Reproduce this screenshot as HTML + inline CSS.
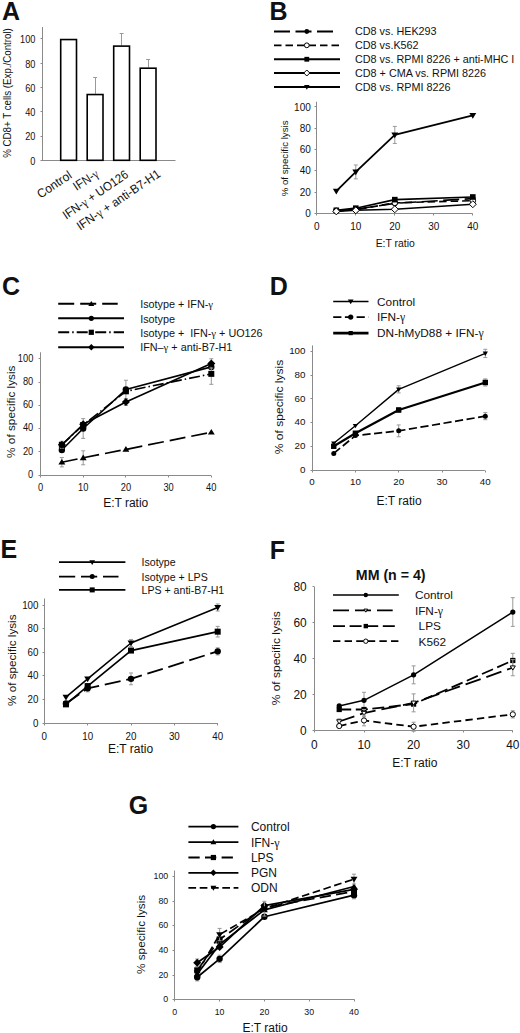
<!DOCTYPE html>
<html><head><meta charset="utf-8"><style>
html,body{margin:0;padding:0;background:#fff;}
body{width:520px;height:1033px;overflow:hidden;font-family:"Liberation Sans",sans-serif;}
svg{display:block;}
</style></head><body>
<svg width="520" height="1033" viewBox="0 0 520 1033" font-family="Liberation Sans, sans-serif">
<rect width="520" height="1033" fill="#fff"/>
<text x="2.00" y="19.50" font-size="25" text-anchor="start" font-weight="bold" fill="#111">A</text>
<line x1="42.50" y1="27.00" x2="42.50" y2="160.50" stroke="#8a8a8a" stroke-width="1"/>
<line x1="41.50" y1="160.50" x2="175.50" y2="160.50" stroke="#8a8a8a" stroke-width="1"/>
<line x1="40.50" y1="160.50" x2="42.50" y2="160.50" stroke="#8a8a8a" stroke-width="1"/>
<text x="35.40" y="164.70" font-size="9.5" text-anchor="end" transform="translate(35.40 164.70) scale(0.97 1.15) translate(-35.40 -164.70)" fill="#111">0</text>
<line x1="40.50" y1="136.50" x2="42.50" y2="136.50" stroke="#8a8a8a" stroke-width="1"/>
<text x="35.40" y="140.42" font-size="9.5" text-anchor="end" transform="translate(35.40 140.42) scale(0.97 1.15) translate(-35.40 -140.42)" fill="#111">20</text>
<line x1="40.50" y1="111.50" x2="42.50" y2="111.50" stroke="#8a8a8a" stroke-width="1"/>
<text x="35.40" y="116.14" font-size="9.5" text-anchor="end" transform="translate(35.40 116.14) scale(0.97 1.15) translate(-35.40 -116.14)" fill="#111">40</text>
<line x1="40.50" y1="87.50" x2="42.50" y2="87.50" stroke="#8a8a8a" stroke-width="1"/>
<text x="35.40" y="91.86" font-size="9.5" text-anchor="end" transform="translate(35.40 91.86) scale(0.97 1.15) translate(-35.40 -91.86)" fill="#111">60</text>
<line x1="40.50" y1="63.50" x2="42.50" y2="63.50" stroke="#8a8a8a" stroke-width="1"/>
<text x="35.40" y="67.58" font-size="9.5" text-anchor="end" transform="translate(35.40 67.58) scale(0.97 1.15) translate(-35.40 -67.58)" fill="#111">80</text>
<line x1="40.50" y1="38.50" x2="42.50" y2="38.50" stroke="#8a8a8a" stroke-width="1"/>
<text x="35.40" y="43.30" font-size="9.5" text-anchor="end" transform="translate(35.40 43.30) scale(0.97 1.15) translate(-35.40 -43.30)" fill="#111">100</text>
<rect x="60.70" y="39.55" width="15.8" height="120.75" fill="#fff" stroke="#000" stroke-width="1.6"/>
<line x1="95.50" y1="77.75" x2="95.50" y2="93.89" stroke="#999" stroke-width="1.0"/>
<line x1="93.10" y1="77.50" x2="97.10" y2="77.50" stroke="#999" stroke-width="1.0"/>
<rect x="87.20" y="94.54" width="15.8" height="65.76" fill="#fff" stroke="#000" stroke-width="1.6"/>
<line x1="121.50" y1="33.44" x2="121.50" y2="45.46" stroke="#999" stroke-width="1.0"/>
<line x1="119.60" y1="33.50" x2="123.60" y2="33.50" stroke="#999" stroke-width="1.0"/>
<rect x="113.70" y="46.11" width="15.8" height="114.19" fill="#fff" stroke="#000" stroke-width="1.6"/>
<line x1="148.50" y1="59.66" x2="148.50" y2="67.55" stroke="#999" stroke-width="1.0"/>
<line x1="146.10" y1="59.50" x2="150.10" y2="59.50" stroke="#999" stroke-width="1.0"/>
<rect x="140.20" y="68.20" width="15.8" height="92.10" fill="#fff" stroke="#000" stroke-width="1.6"/>
<text x="11.30" y="93.00" font-size="10.6" text-anchor="middle" transform="rotate(-90 11.30 93.00)" textLength="129.6" lengthAdjust="spacingAndGlyphs" fill="#111">% CD8+ T cells (Exp./Control)</text>
<text x="72.70" y="177.40" font-size="12.4" text-anchor="end" transform="rotate(-33.6 72.70 177.40)" textLength="38.6" lengthAdjust="spacingAndGlyphs" fill="#111">Control</text>
<text x="99.60" y="175.80" font-size="12.4" text-anchor="end" transform="rotate(-33.6 99.60 175.80)" textLength="27.6" lengthAdjust="spacingAndGlyphs" fill="#111">IFN-<tspan font-family="Liberation Serif">γ</tspan></text>
<text x="129.20" y="176.50" font-size="12.4" text-anchor="end" transform="rotate(-34.4 129.20 176.50)" textLength="76.4" lengthAdjust="spacingAndGlyphs" fill="#111">IFN-<tspan font-family="Liberation Serif">γ</tspan> + UO126</text>
<text x="161.40" y="175.90" font-size="12.4" text-anchor="end" transform="rotate(-34.0 161.40 175.90)" textLength="98.0" lengthAdjust="spacingAndGlyphs" fill="#111">IFN-<tspan font-family="Liberation Serif">γ</tspan> + anti-B7-H1</text>
<text x="269.50" y="20.00" font-size="25" text-anchor="start" font-weight="bold" fill="#111">B</text>
<line x1="316.50" y1="101.70" x2="316.50" y2="213.50" stroke="#8a8a8a" stroke-width="1"/>
<line x1="316.50" y1="213.50" x2="472.60" y2="213.50" stroke="#8a8a8a" stroke-width="1"/>
<line x1="314.50" y1="213.50" x2="316.50" y2="213.50" stroke="#8a8a8a" stroke-width="1"/>
<text x="310.80" y="217.10" font-size="10" text-anchor="end" fill="#111">0</text>
<line x1="314.50" y1="192.50" x2="316.50" y2="192.50" stroke="#8a8a8a" stroke-width="1"/>
<text x="310.80" y="195.78" font-size="10" text-anchor="end" fill="#111">20</text>
<line x1="314.50" y1="170.50" x2="316.50" y2="170.50" stroke="#8a8a8a" stroke-width="1"/>
<text x="310.80" y="174.46" font-size="10" text-anchor="end" fill="#111">40</text>
<line x1="314.50" y1="149.50" x2="316.50" y2="149.50" stroke="#8a8a8a" stroke-width="1"/>
<text x="310.80" y="153.14" font-size="10" text-anchor="end" fill="#111">60</text>
<line x1="314.50" y1="128.50" x2="316.50" y2="128.50" stroke="#8a8a8a" stroke-width="1"/>
<text x="310.80" y="131.82" font-size="10" text-anchor="end" fill="#111">80</text>
<line x1="314.50" y1="106.50" x2="316.50" y2="106.50" stroke="#8a8a8a" stroke-width="1"/>
<text x="310.80" y="110.50" font-size="10" text-anchor="end" fill="#111">100</text>
<line x1="316.50" y1="213.50" x2="316.50" y2="215.50" stroke="#8a8a8a" stroke-width="1"/>
<text x="316.80" y="230.00" font-size="10" text-anchor="middle" fill="#111">0</text>
<line x1="355.50" y1="213.50" x2="355.50" y2="215.50" stroke="#8a8a8a" stroke-width="1"/>
<text x="355.80" y="230.00" font-size="10" text-anchor="middle" fill="#111">10</text>
<line x1="394.50" y1="213.50" x2="394.50" y2="215.50" stroke="#8a8a8a" stroke-width="1"/>
<text x="394.80" y="230.00" font-size="10" text-anchor="middle" fill="#111">20</text>
<line x1="433.50" y1="213.50" x2="433.50" y2="215.50" stroke="#8a8a8a" stroke-width="1"/>
<text x="433.80" y="230.00" font-size="10" text-anchor="middle" fill="#111">30</text>
<line x1="472.50" y1="213.50" x2="472.50" y2="215.50" stroke="#8a8a8a" stroke-width="1"/>
<text x="472.80" y="230.00" font-size="10" text-anchor="middle" fill="#111">40</text>
<text x="287.60" y="158.40" font-size="9.7" text-anchor="middle" transform="rotate(-90 287.60 158.40)" fill="#111">% of specific lysis</text>
<text x="395.20" y="247.40" font-size="10.4" text-anchor="middle" fill="#111">E:T ratio</text>
<line x1="274.00" y1="31.50" x2="333.50" y2="31.50" stroke="#000" stroke-width="1.8" stroke-dasharray="16,5.5"/>
<circle cx="306.80" cy="31.50" r="2.40" fill="#000"/>
<text x="355.00" y="35.30" font-size="10.8" text-anchor="start" fill="#111">CD8 vs. HEK293</text>
<line x1="274.00" y1="45.30" x2="340.00" y2="45.30" stroke="#000" stroke-width="1.8" stroke-dasharray="7.5,4"/>
<circle cx="306.80" cy="45.30" r="2.40" fill="#fff" stroke="#000" stroke-width="1"/>
<text x="355.00" y="49.10" font-size="10.8" text-anchor="start" fill="#111">CD8 vs.K562</text>
<line x1="274.00" y1="59.25" x2="340.00" y2="59.25" stroke="#000" stroke-width="1.8"/>
<rect x="304.40" y="56.85" width="4.80" height="4.80" fill="#000"/>
<text x="355.00" y="63.05" font-size="10.8" text-anchor="start" fill="#111">CD8 vs. RPMI 8226 + anti-MHC I</text>
<line x1="274.00" y1="73.00" x2="340.00" y2="73.00" stroke="#000" stroke-width="1.8"/>
<path d="M306.80 70.00L309.80 73.00L306.80 76.00L303.80 73.00Z" fill="#fff" stroke="#000" stroke-width="1"/>
<text x="355.00" y="76.80" font-size="10.8" text-anchor="start" fill="#111">CD8 + CMA vs. RPMI 8226</text>
<line x1="274.00" y1="87.00" x2="340.00" y2="87.00" stroke="#000" stroke-width="1.8"/>
<path d="M304.04 85.08L309.56 85.08L306.80 89.64Z" fill="#000"/>
<text x="355.00" y="90.80" font-size="10.8" text-anchor="start" fill="#111">CD8 vs. RPMI 8226</text>
<polyline points="336.30,210.84 355.80,209.24 394.80,203.37 472.80,198.58" fill="none" stroke="#000" stroke-width="1.6" stroke-linejoin="round" stroke-dasharray="16,5.5"/>
<circle cx="336.30" cy="210.84" r="2.80" fill="#000"/>
<circle cx="355.80" cy="209.24" r="2.80" fill="#000"/>
<circle cx="394.80" cy="203.37" r="2.80" fill="#000"/>
<circle cx="472.80" cy="198.58" r="2.80" fill="#000"/>
<polyline points="336.30,210.84 355.80,209.77 394.80,202.84 472.80,200.71" fill="none" stroke="#000" stroke-width="1.6" stroke-linejoin="round" stroke-dasharray="7.5,4"/>
<circle cx="336.30" cy="210.84" r="2.80" fill="#fff" stroke="#000" stroke-width="1"/>
<circle cx="355.80" cy="209.77" r="2.80" fill="#fff" stroke="#000" stroke-width="1"/>
<circle cx="394.80" cy="202.84" r="2.80" fill="#fff" stroke="#000" stroke-width="1"/>
<circle cx="472.80" cy="200.71" r="2.80" fill="#fff" stroke="#000" stroke-width="1"/>
<polyline points="336.30,210.30 355.80,208.17 394.80,199.64 472.80,196.98" fill="none" stroke="#000" stroke-width="1.6" stroke-linejoin="round"/>
<rect x="333.50" y="207.50" width="5.60" height="5.60" fill="#000"/>
<rect x="353.00" y="205.37" width="5.60" height="5.60" fill="#000"/>
<rect x="392.00" y="196.84" width="5.60" height="5.60" fill="#000"/>
<rect x="470.00" y="194.18" width="5.60" height="5.60" fill="#000"/>
<polyline points="336.30,211.37 355.80,210.30 394.80,209.24 472.80,204.23" fill="none" stroke="#000" stroke-width="1.6" stroke-linejoin="round"/>
<path d="M336.30 207.87L339.80 211.37L336.30 214.87L332.80 211.37Z" fill="#fff" stroke="#000" stroke-width="1"/>
<path d="M355.80 206.80L359.30 210.30L355.80 213.80L352.30 210.30Z" fill="#fff" stroke="#000" stroke-width="1"/>
<path d="M394.80 205.74L398.30 209.24L394.80 212.74L391.30 209.24Z" fill="#fff" stroke="#000" stroke-width="1"/>
<path d="M472.80 200.73L476.30 204.23L472.80 207.73L469.30 204.23Z" fill="#fff" stroke="#000" stroke-width="1"/>
<line x1="355.80" y1="165.00" x2="355.80" y2="178.85" stroke="#999" stroke-width="1.0"/>
<line x1="353.80" y1="165.00" x2="357.80" y2="165.00" stroke="#999" stroke-width="1.0"/>
<line x1="353.80" y1="178.85" x2="357.80" y2="178.85" stroke="#999" stroke-width="1.0"/>
<line x1="394.80" y1="126.41" x2="394.80" y2="143.46" stroke="#999" stroke-width="1.0"/>
<line x1="392.80" y1="126.41" x2="396.80" y2="126.41" stroke="#999" stroke-width="1.0"/>
<line x1="392.80" y1="143.46" x2="396.80" y2="143.46" stroke="#999" stroke-width="1.0"/>
<polyline points="336.30,191.11 355.80,171.93 394.80,134.94 472.80,115.43" fill="none" stroke="#000" stroke-width="1.8" stroke-linejoin="round"/>
<path d="M332.85 188.71L339.75 188.71L336.30 194.41Z" fill="#000"/>
<path d="M352.35 169.53L359.25 169.53L355.80 175.23Z" fill="#000"/>
<path d="M391.35 132.54L398.25 132.54L394.80 138.24Z" fill="#000"/>
<path d="M469.35 113.03L476.25 113.03L472.80 118.73Z" fill="#000"/>
<text x="2.00" y="295.00" font-size="25" text-anchor="start" font-weight="bold" fill="#111">C</text>
<line x1="40.50" y1="352.30" x2="40.50" y2="475.50" stroke="#8a8a8a" stroke-width="1"/>
<line x1="40.50" y1="475.50" x2="211.00" y2="475.50" stroke="#8a8a8a" stroke-width="1"/>
<line x1="38.50" y1="475.50" x2="40.50" y2="475.50" stroke="#8a8a8a" stroke-width="1"/>
<text x="33.30" y="478.00" font-size="9.3" text-anchor="end" transform="translate(33.30 478.00) scale(1 1.1) translate(-33.30 -478.00)" fill="#111">0</text>
<line x1="38.50" y1="451.50" x2="40.50" y2="451.50" stroke="#8a8a8a" stroke-width="1"/>
<text x="33.30" y="454.75" font-size="9.3" text-anchor="end" transform="translate(33.30 454.75) scale(1 1.1) translate(-33.30 -454.75)" fill="#111">20</text>
<line x1="38.50" y1="428.50" x2="40.50" y2="428.50" stroke="#8a8a8a" stroke-width="1"/>
<text x="33.30" y="431.50" font-size="9.3" text-anchor="end" transform="translate(33.30 431.50) scale(1 1.1) translate(-33.30 -431.50)" fill="#111">40</text>
<line x1="38.50" y1="405.50" x2="40.50" y2="405.50" stroke="#8a8a8a" stroke-width="1"/>
<text x="33.30" y="408.25" font-size="9.3" text-anchor="end" transform="translate(33.30 408.25) scale(1 1.1) translate(-33.30 -408.25)" fill="#111">60</text>
<line x1="38.50" y1="382.50" x2="40.50" y2="382.50" stroke="#8a8a8a" stroke-width="1"/>
<text x="33.30" y="385.00" font-size="9.3" text-anchor="end" transform="translate(33.30 385.00) scale(1 1.1) translate(-33.30 -385.00)" fill="#111">80</text>
<line x1="38.50" y1="358.50" x2="40.50" y2="358.50" stroke="#8a8a8a" stroke-width="1"/>
<text x="33.30" y="361.75" font-size="9.3" text-anchor="end" transform="translate(33.30 361.75) scale(1 1.1) translate(-33.30 -361.75)" fill="#111">100</text>
<line x1="40.50" y1="475.50" x2="40.50" y2="477.50" stroke="#8a8a8a" stroke-width="1"/>
<text x="40.50" y="491.30" font-size="9.3" text-anchor="middle" transform="translate(40.50 491.30) scale(1 1.1) translate(-40.50 -491.30)" fill="#111">0</text>
<line x1="83.50" y1="475.50" x2="83.50" y2="477.50" stroke="#8a8a8a" stroke-width="1"/>
<text x="83.20" y="491.30" font-size="9.3" text-anchor="middle" transform="translate(83.20 491.30) scale(1 1.1) translate(-83.20 -491.30)" fill="#111">10</text>
<line x1="125.50" y1="475.50" x2="125.50" y2="477.50" stroke="#8a8a8a" stroke-width="1"/>
<text x="125.90" y="491.30" font-size="9.3" text-anchor="middle" transform="translate(125.90 491.30) scale(1 1.1) translate(-125.90 -491.30)" fill="#111">20</text>
<line x1="168.50" y1="475.50" x2="168.50" y2="477.50" stroke="#8a8a8a" stroke-width="1"/>
<text x="168.60" y="491.30" font-size="9.3" text-anchor="middle" transform="translate(168.60 491.30) scale(1 1.1) translate(-168.60 -491.30)" fill="#111">30</text>
<line x1="211.50" y1="475.50" x2="211.50" y2="477.50" stroke="#8a8a8a" stroke-width="1"/>
<text x="211.30" y="491.30" font-size="9.3" text-anchor="middle" transform="translate(211.30 491.30) scale(1 1.1) translate(-211.30 -491.30)" fill="#111">40</text>
<text x="15.45" y="411.70" font-size="11.8" text-anchor="middle" transform="rotate(-90 15.45 411.70)" fill="#111">% of specific lysis</text>
<text x="125.70" y="506.90" font-size="12" text-anchor="middle" fill="#111">E:T ratio</text>
<line x1="58.20" y1="303.80" x2="117.70" y2="303.80" stroke="#000" stroke-width="2" stroke-dasharray="16,6"/>
<path d="M88.31 305.88L94.29 305.88L91.30 300.94Z" fill="#000"/>
<text x="140.20" y="308.00" font-size="10.8" text-anchor="start" fill="#111">Isotype + IFN-<tspan font-family="Liberation Serif">γ</tspan></text>
<line x1="58.20" y1="318.30" x2="124.00" y2="318.30" stroke="#000" stroke-width="2"/>
<circle cx="91.30" cy="318.30" r="2.60" fill="#000"/>
<text x="140.20" y="322.50" font-size="10.8" text-anchor="start" fill="#111">Isotype</text>
<line x1="58.20" y1="332.30" x2="124.00" y2="332.30" stroke="#000" stroke-width="2" stroke-dasharray="11,3,1.5,3"/>
<rect x="88.70" y="329.70" width="5.20" height="5.20" fill="#000"/>
<text x="140.20" y="336.50" font-size="10.8" text-anchor="start" fill="#111">Isotype +&#160; IFN-<tspan font-family="Liberation Serif">γ</tspan> + UO126</text>
<line x1="58.20" y1="347.20" x2="124.00" y2="347.20" stroke="#000" stroke-width="2"/>
<path d="M91.30 343.95L94.55 347.20L91.30 350.45L88.05 347.20Z" fill="#000"/>
<text x="140.20" y="351.40" font-size="10.8" text-anchor="start" fill="#111">IFN–<tspan font-family="Liberation Serif">γ</tspan> + anti-B7-H1</text>
<line x1="61.85" y1="457.56" x2="61.85" y2="466.86" stroke="#999" stroke-width="1.0"/>
<line x1="59.85" y1="457.56" x2="63.85" y2="457.56" stroke="#999" stroke-width="1.0"/>
<line x1="59.85" y1="466.86" x2="63.85" y2="466.86" stroke="#999" stroke-width="1.0"/>
<line x1="83.20" y1="450.82" x2="83.20" y2="464.77" stroke="#999" stroke-width="1.0"/>
<line x1="81.20" y1="450.82" x2="85.20" y2="450.82" stroke="#999" stroke-width="1.0"/>
<line x1="81.20" y1="464.77" x2="85.20" y2="464.77" stroke="#999" stroke-width="1.0"/>
<polyline points="61.85,462.21 83.20,457.80 125.90,449.43 211.30,432.22" fill="none" stroke="#000" stroke-width="1.7" stroke-linejoin="round" stroke-dasharray="16,6"/>
<path d="M58.40 464.61L65.30 464.61L61.85 458.91Z" fill="#000"/>
<path d="M79.75 460.19L86.65 460.19L83.20 454.50Z" fill="#000"/>
<path d="M122.45 451.82L129.35 451.82L125.90 446.12Z" fill="#000"/>
<path d="M207.85 434.62L214.75 434.62L211.30 428.92Z" fill="#000"/>
<line x1="83.20" y1="418.62" x2="83.20" y2="438.38" stroke="#999" stroke-width="1.0"/>
<line x1="81.20" y1="418.62" x2="85.20" y2="418.62" stroke="#999" stroke-width="1.0"/>
<line x1="81.20" y1="438.38" x2="85.20" y2="438.38" stroke="#999" stroke-width="1.0"/>
<line x1="125.90" y1="380.26" x2="125.90" y2="398.86" stroke="#999" stroke-width="1.0"/>
<line x1="123.90" y1="380.26" x2="127.90" y2="380.26" stroke="#999" stroke-width="1.0"/>
<line x1="123.90" y1="398.86" x2="127.90" y2="398.86" stroke="#999" stroke-width="1.0"/>
<polyline points="61.85,450.01 83.20,428.50 125.90,389.56 211.30,366.89" fill="none" stroke="#000" stroke-width="1.6" stroke-linejoin="round"/>
<circle cx="61.85" cy="450.01" r="3.20" fill="#000"/>
<circle cx="83.20" cy="428.50" r="3.20" fill="#000"/>
<circle cx="125.90" cy="389.56" r="3.20" fill="#000"/>
<circle cx="211.30" cy="366.89" r="3.20" fill="#000"/>
<line x1="211.30" y1="363.40" x2="211.30" y2="384.32" stroke="#999" stroke-width="1.0"/>
<line x1="209.30" y1="363.40" x2="213.30" y2="363.40" stroke="#999" stroke-width="1.0"/>
<line x1="209.30" y1="384.32" x2="213.30" y2="384.32" stroke="#999" stroke-width="1.0"/>
<polyline points="61.85,444.77 83.20,425.01 125.90,391.30 211.30,373.86" fill="none" stroke="#000" stroke-width="1.6" stroke-linejoin="round" stroke-dasharray="11,3,1.5,3"/>
<rect x="58.85" y="441.77" width="6.00" height="6.00" fill="#000"/>
<rect x="80.20" y="422.01" width="6.00" height="6.00" fill="#000"/>
<rect x="122.90" y="388.30" width="6.00" height="6.00" fill="#000"/>
<rect x="208.30" y="370.86" width="6.00" height="6.00" fill="#000"/>
<line x1="61.85" y1="441.29" x2="61.85" y2="448.26" stroke="#999" stroke-width="1.0"/>
<line x1="59.85" y1="441.29" x2="63.85" y2="441.29" stroke="#999" stroke-width="1.0"/>
<line x1="59.85" y1="448.26" x2="63.85" y2="448.26" stroke="#999" stroke-width="1.0"/>
<line x1="125.90" y1="398.51" x2="125.90" y2="405.48" stroke="#999" stroke-width="1.0"/>
<line x1="123.90" y1="398.51" x2="127.90" y2="398.51" stroke="#999" stroke-width="1.0"/>
<line x1="123.90" y1="405.48" x2="127.90" y2="405.48" stroke="#999" stroke-width="1.0"/>
<line x1="211.30" y1="358.75" x2="211.30" y2="368.05" stroke="#999" stroke-width="1.0"/>
<line x1="209.30" y1="358.75" x2="213.30" y2="358.75" stroke="#999" stroke-width="1.0"/>
<line x1="209.30" y1="368.05" x2="213.30" y2="368.05" stroke="#999" stroke-width="1.0"/>
<polyline points="61.85,444.77 83.20,424.31 125.90,402.00 211.30,363.40" fill="none" stroke="#000" stroke-width="1.6" stroke-linejoin="round"/>
<path d="M61.85 440.77L65.85 444.77L61.85 448.77L57.85 444.77Z" fill="#000"/>
<path d="M83.20 420.31L87.20 424.31L83.20 428.31L79.20 424.31Z" fill="#000"/>
<path d="M125.90 398.00L129.90 402.00L125.90 406.00L121.90 402.00Z" fill="#000"/>
<path d="M211.30 359.40L215.30 363.40L211.30 367.40L207.30 363.40Z" fill="#000"/>
<text x="269.80" y="294.80" font-size="25" text-anchor="start" font-weight="bold" fill="#111">D</text>
<line x1="312.50" y1="345.40" x2="312.50" y2="470.50" stroke="#8a8a8a" stroke-width="1"/>
<line x1="312.50" y1="470.50" x2="484.80" y2="470.50" stroke="#8a8a8a" stroke-width="1"/>
<line x1="310.50" y1="470.50" x2="312.50" y2="470.50" stroke="#8a8a8a" stroke-width="1"/>
<text x="305.50" y="472.90" font-size="9.8" text-anchor="end" fill="#111">0</text>
<line x1="310.50" y1="446.50" x2="312.50" y2="446.50" stroke="#8a8a8a" stroke-width="1"/>
<text x="305.50" y="449.18" font-size="9.8" text-anchor="end" fill="#111">20</text>
<line x1="310.50" y1="422.50" x2="312.50" y2="422.50" stroke="#8a8a8a" stroke-width="1"/>
<text x="305.50" y="425.46" font-size="9.8" text-anchor="end" fill="#111">40</text>
<line x1="310.50" y1="398.50" x2="312.50" y2="398.50" stroke="#8a8a8a" stroke-width="1"/>
<text x="305.50" y="401.74" font-size="9.8" text-anchor="end" fill="#111">60</text>
<line x1="310.50" y1="375.50" x2="312.50" y2="375.50" stroke="#8a8a8a" stroke-width="1"/>
<text x="305.50" y="378.02" font-size="9.8" text-anchor="end" fill="#111">80</text>
<line x1="310.50" y1="351.50" x2="312.50" y2="351.50" stroke="#8a8a8a" stroke-width="1"/>
<text x="305.50" y="354.30" font-size="9.8" text-anchor="end" fill="#111">100</text>
<line x1="312.50" y1="470.50" x2="312.50" y2="472.50" stroke="#8a8a8a" stroke-width="1"/>
<text x="312.10" y="485.40" font-size="9.8" text-anchor="middle" fill="#111">0</text>
<line x1="355.50" y1="470.50" x2="355.50" y2="472.50" stroke="#8a8a8a" stroke-width="1"/>
<text x="355.40" y="485.40" font-size="9.8" text-anchor="middle" fill="#111">10</text>
<line x1="398.50" y1="470.50" x2="398.50" y2="472.50" stroke="#8a8a8a" stroke-width="1"/>
<text x="398.70" y="485.40" font-size="9.8" text-anchor="middle" fill="#111">20</text>
<line x1="442.50" y1="470.50" x2="442.50" y2="472.50" stroke="#8a8a8a" stroke-width="1"/>
<text x="442.00" y="485.40" font-size="9.8" text-anchor="middle" fill="#111">30</text>
<line x1="485.50" y1="470.50" x2="485.50" y2="472.50" stroke="#8a8a8a" stroke-width="1"/>
<text x="485.30" y="485.40" font-size="9.8" text-anchor="middle" fill="#111">40</text>
<text x="282.70" y="407.00" font-size="11.2" text-anchor="middle" transform="rotate(-90 282.70 407.00)" textLength="94.6" lengthAdjust="spacingAndGlyphs" fill="#111">% of specific lysis</text>
<text x="399.00" y="505.00" font-size="12" text-anchor="middle" fill="#111">E:T ratio</text>
<line x1="333.20" y1="301.50" x2="368.50" y2="301.50" stroke="#000" stroke-width="1.4"/>
<path d="M347.82 299.50L353.57 299.50L350.70 304.25Z" fill="#000"/>
<text x="377.10" y="305.70" font-size="11.8" text-anchor="start" fill="#111">Control</text>
<line x1="333.20" y1="317.10" x2="368.50" y2="317.10" stroke="#000" stroke-width="1.8" stroke-dasharray="8.2,3.5"/>
<circle cx="350.70" cy="317.10" r="2.60" fill="#000"/>
<text x="377.10" y="321.30" font-size="11.8" text-anchor="start" fill="#111">IFN-<tspan font-family="Liberation Serif">γ</tspan></text>
<line x1="333.20" y1="333.10" x2="368.50" y2="333.10" stroke="#000" stroke-width="2.6"/>
<rect x="348.60" y="331.00" width="4.20" height="4.20" fill="#000"/>
<text x="377.10" y="337.30" font-size="11.8" text-anchor="start" fill="#111">DN-hMyD88 + IFN-<tspan font-family="Liberation Serif">γ</tspan></text>
<line x1="398.70" y1="385.79" x2="398.70" y2="392.91" stroke="#999" stroke-width="1.0"/>
<line x1="396.70" y1="385.79" x2="400.70" y2="385.79" stroke="#999" stroke-width="1.0"/>
<line x1="396.70" y1="392.91" x2="400.70" y2="392.91" stroke="#999" stroke-width="1.0"/>
<line x1="485.30" y1="349.27" x2="485.30" y2="357.57" stroke="#999" stroke-width="1.0"/>
<line x1="483.30" y1="349.27" x2="487.30" y2="349.27" stroke="#999" stroke-width="1.0"/>
<line x1="483.30" y1="357.57" x2="487.30" y2="357.57" stroke="#999" stroke-width="1.0"/>
<polyline points="333.75,443.31 355.40,425.76 398.70,389.35 485.30,353.42" fill="none" stroke="#000" stroke-width="1.4" stroke-linejoin="round"/>
<path d="M331.11 441.48L336.39 441.48L333.75 445.84Z" fill="#000"/>
<path d="M352.76 423.92L358.05 423.92L355.40 428.29Z" fill="#000"/>
<path d="M396.06 387.51L401.35 387.51L398.70 391.88Z" fill="#000"/>
<path d="M482.66 351.58L487.94 351.58L485.30 355.95Z" fill="#000"/>
<line x1="398.70" y1="424.93" x2="398.70" y2="436.79" stroke="#999" stroke-width="1.0"/>
<line x1="396.70" y1="424.93" x2="400.70" y2="424.93" stroke="#999" stroke-width="1.0"/>
<line x1="396.70" y1="436.79" x2="400.70" y2="436.79" stroke="#999" stroke-width="1.0"/>
<line x1="485.30" y1="412.60" x2="485.30" y2="419.71" stroke="#999" stroke-width="1.0"/>
<line x1="483.30" y1="412.60" x2="487.30" y2="412.60" stroke="#999" stroke-width="1.0"/>
<line x1="483.30" y1="419.71" x2="487.30" y2="419.71" stroke="#999" stroke-width="1.0"/>
<polyline points="333.75,453.40 355.40,435.61 398.70,430.86 485.30,416.16" fill="none" stroke="#000" stroke-width="1.7" stroke-linejoin="round" stroke-dasharray="8.2,3.5"/>
<circle cx="333.75" cy="453.40" r="2.50" fill="#000"/>
<circle cx="355.40" cy="435.61" r="2.50" fill="#000"/>
<circle cx="398.70" cy="430.86" r="2.50" fill="#000"/>
<circle cx="485.30" cy="416.16" r="2.50" fill="#000"/>
<line x1="398.70" y1="407.62" x2="398.70" y2="412.36" stroke="#999" stroke-width="1.0"/>
<line x1="396.70" y1="407.62" x2="400.70" y2="407.62" stroke="#999" stroke-width="1.0"/>
<line x1="396.70" y1="412.36" x2="400.70" y2="412.36" stroke="#999" stroke-width="1.0"/>
<line x1="485.30" y1="378.92" x2="485.30" y2="386.03" stroke="#999" stroke-width="1.0"/>
<line x1="483.30" y1="378.92" x2="487.30" y2="378.92" stroke="#999" stroke-width="1.0"/>
<line x1="483.30" y1="386.03" x2="487.30" y2="386.03" stroke="#999" stroke-width="1.0"/>
<polyline points="333.75,446.28 355.40,433.23 398.70,409.99 485.30,382.47" fill="none" stroke="#000" stroke-width="2.2" stroke-linejoin="round"/>
<rect x="331.05" y="443.58" width="5.40" height="5.40" fill="#000"/>
<rect x="352.70" y="430.53" width="5.40" height="5.40" fill="#000"/>
<rect x="396.00" y="407.29" width="5.40" height="5.40" fill="#000"/>
<rect x="482.60" y="379.77" width="5.40" height="5.40" fill="#000"/>
<text x="0.50" y="558.30" font-size="25" text-anchor="start" font-weight="bold" fill="#111">E</text>
<line x1="44.50" y1="598.50" x2="44.50" y2="723.50" stroke="#8a8a8a" stroke-width="1"/>
<line x1="44.50" y1="723.50" x2="218.00" y2="723.50" stroke="#8a8a8a" stroke-width="1"/>
<line x1="42.50" y1="723.50" x2="44.50" y2="723.50" stroke="#8a8a8a" stroke-width="1"/>
<text x="38.50" y="726.60" font-size="9.8" text-anchor="end" transform="translate(38.50 726.60) scale(1 1.08) translate(-38.50 -726.60)" fill="#111">0</text>
<line x1="42.50" y1="699.50" x2="44.50" y2="699.50" stroke="#8a8a8a" stroke-width="1"/>
<text x="38.50" y="703.00" font-size="9.8" text-anchor="end" transform="translate(38.50 703.00) scale(1 1.08) translate(-38.50 -703.00)" fill="#111">20</text>
<line x1="42.50" y1="675.50" x2="44.50" y2="675.50" stroke="#8a8a8a" stroke-width="1"/>
<text x="38.50" y="679.40" font-size="9.8" text-anchor="end" transform="translate(38.50 679.40) scale(1 1.08) translate(-38.50 -679.40)" fill="#111">40</text>
<line x1="42.50" y1="652.50" x2="44.50" y2="652.50" stroke="#8a8a8a" stroke-width="1"/>
<text x="38.50" y="655.80" font-size="9.8" text-anchor="end" transform="translate(38.50 655.80) scale(1 1.08) translate(-38.50 -655.80)" fill="#111">60</text>
<line x1="42.50" y1="628.50" x2="44.50" y2="628.50" stroke="#8a8a8a" stroke-width="1"/>
<text x="38.50" y="632.20" font-size="9.8" text-anchor="end" transform="translate(38.50 632.20) scale(1 1.08) translate(-38.50 -632.20)" fill="#111">80</text>
<line x1="42.50" y1="605.50" x2="44.50" y2="605.50" stroke="#8a8a8a" stroke-width="1"/>
<text x="38.50" y="608.60" font-size="9.8" text-anchor="end" transform="translate(38.50 608.60) scale(1 1.08) translate(-38.50 -608.60)" fill="#111">100</text>
<line x1="44.50" y1="723.50" x2="44.50" y2="725.50" stroke="#8a8a8a" stroke-width="1"/>
<text x="44.30" y="740.25" font-size="9.8" text-anchor="middle" transform="translate(44.30 740.25) scale(1 1.08) translate(-44.30 -740.25)" fill="#111">0</text>
<line x1="87.50" y1="723.50" x2="87.50" y2="725.50" stroke="#8a8a8a" stroke-width="1"/>
<text x="87.65" y="740.25" font-size="9.8" text-anchor="middle" transform="translate(87.65 740.25) scale(1 1.08) translate(-87.65 -740.25)" fill="#111">10</text>
<line x1="131.50" y1="723.50" x2="131.50" y2="725.50" stroke="#8a8a8a" stroke-width="1"/>
<text x="131.00" y="740.25" font-size="9.8" text-anchor="middle" transform="translate(131.00 740.25) scale(1 1.08) translate(-131.00 -740.25)" fill="#111">20</text>
<line x1="174.50" y1="723.50" x2="174.50" y2="725.50" stroke="#8a8a8a" stroke-width="1"/>
<text x="174.35" y="740.25" font-size="9.8" text-anchor="middle" transform="translate(174.35 740.25) scale(1 1.08) translate(-174.35 -740.25)" fill="#111">30</text>
<line x1="217.50" y1="723.50" x2="217.50" y2="725.50" stroke="#8a8a8a" stroke-width="1"/>
<text x="217.70" y="740.25" font-size="9.8" text-anchor="middle" transform="translate(217.70 740.25) scale(1 1.08) translate(-217.70 -740.25)" fill="#111">40</text>
<text x="15.80" y="660.20" font-size="11.6" text-anchor="middle" transform="rotate(-90 15.80 660.20)" textLength="91.4" lengthAdjust="spacingAndGlyphs" fill="#111">% of specific lysis</text>
<text x="130.50" y="752.50" font-size="12" text-anchor="middle" fill="#111">E:T ratio</text>
<line x1="59.00" y1="562.20" x2="125.40" y2="562.20" stroke="#000" stroke-width="1.8"/>
<path d="M89.33 560.20L95.08 560.20L92.20 564.95Z" fill="#000"/>
<text x="141.50" y="566.10" font-size="10.6" text-anchor="start" fill="#111">Isotype</text>
<line x1="59.00" y1="576.60" x2="118.50" y2="576.60" stroke="#000" stroke-width="1.8" stroke-dasharray="16.2,5.8"/>
<circle cx="92.20" cy="576.60" r="2.50" fill="#000"/>
<text x="141.50" y="580.50" font-size="10.6" text-anchor="start" fill="#111">Isotype + LPS</text>
<line x1="59.00" y1="589.90" x2="125.40" y2="589.90" stroke="#000" stroke-width="1.8"/>
<rect x="89.70" y="587.40" width="5.00" height="5.00" fill="#000"/>
<text x="141.50" y="593.80" font-size="10.6" text-anchor="start" fill="#111">LPS + anti-B7-H1</text>
<line x1="131.00" y1="639.46" x2="131.00" y2="646.54" stroke="#999" stroke-width="1.0"/>
<line x1="129.00" y1="639.46" x2="133.00" y2="639.46" stroke="#999" stroke-width="1.0"/>
<line x1="129.00" y1="646.54" x2="133.00" y2="646.54" stroke="#999" stroke-width="1.0"/>
<line x1="217.70" y1="603.94" x2="217.70" y2="611.02" stroke="#999" stroke-width="1.0"/>
<line x1="215.70" y1="603.94" x2="219.70" y2="603.94" stroke="#999" stroke-width="1.0"/>
<line x1="215.70" y1="611.02" x2="219.70" y2="611.02" stroke="#999" stroke-width="1.0"/>
<polyline points="65.97,697.16 87.65,678.87 131.00,643.00 217.70,607.48" fill="none" stroke="#000" stroke-width="1.6" stroke-linejoin="round"/>
<path d="M62.52 694.76L69.42 694.76L65.97 700.46Z" fill="#000"/>
<path d="M84.20 676.47L91.10 676.47L87.65 682.17Z" fill="#000"/>
<path d="M127.55 640.60L134.45 640.60L131.00 646.30Z" fill="#000"/>
<path d="M214.25 605.08L221.15 605.08L217.70 610.78Z" fill="#000"/>
<line x1="87.65" y1="684.77" x2="87.65" y2="691.85" stroke="#999" stroke-width="1.0"/>
<line x1="85.65" y1="684.77" x2="89.65" y2="684.77" stroke="#999" stroke-width="1.0"/>
<line x1="85.65" y1="691.85" x2="89.65" y2="691.85" stroke="#999" stroke-width="1.0"/>
<line x1="131.00" y1="672.97" x2="131.00" y2="684.77" stroke="#999" stroke-width="1.0"/>
<line x1="129.00" y1="672.97" x2="133.00" y2="672.97" stroke="#999" stroke-width="1.0"/>
<line x1="129.00" y1="684.77" x2="133.00" y2="684.77" stroke="#999" stroke-width="1.0"/>
<line x1="217.70" y1="647.83" x2="217.70" y2="654.91" stroke="#999" stroke-width="1.0"/>
<line x1="215.70" y1="647.83" x2="219.70" y2="647.83" stroke="#999" stroke-width="1.0"/>
<line x1="215.70" y1="654.91" x2="219.70" y2="654.91" stroke="#999" stroke-width="1.0"/>
<polyline points="65.97,703.53 87.65,688.31 131.00,678.87 217.70,651.37" fill="none" stroke="#000" stroke-width="1.8" stroke-linejoin="round" stroke-dasharray="16.2,5.8"/>
<circle cx="65.97" cy="703.53" r="3.20" fill="#000"/>
<circle cx="87.65" cy="688.31" r="3.20" fill="#000"/>
<circle cx="131.00" cy="678.87" r="3.20" fill="#000"/>
<circle cx="217.70" cy="651.37" r="3.20" fill="#000"/>
<line x1="217.70" y1="626.36" x2="217.70" y2="636.98" stroke="#999" stroke-width="1.0"/>
<line x1="215.70" y1="626.36" x2="219.70" y2="626.36" stroke="#999" stroke-width="1.0"/>
<line x1="215.70" y1="636.98" x2="219.70" y2="636.98" stroke="#999" stroke-width="1.0"/>
<polyline points="65.97,704.36 87.65,686.07 131.00,650.55 217.70,631.67" fill="none" stroke="#000" stroke-width="1.7" stroke-linejoin="round"/>
<rect x="62.97" y="701.36" width="6.00" height="6.00" fill="#000"/>
<rect x="84.65" y="683.07" width="6.00" height="6.00" fill="#000"/>
<rect x="128.00" y="647.55" width="6.00" height="6.00" fill="#000"/>
<rect x="214.70" y="628.67" width="6.00" height="6.00" fill="#000"/>
<text x="269.80" y="559.10" font-size="25" text-anchor="start" font-weight="bold" fill="#111">F</text>
<line x1="314.50" y1="587.00" x2="314.50" y2="730.50" stroke="#8a8a8a" stroke-width="1"/>
<line x1="314.50" y1="730.50" x2="512.80" y2="730.50" stroke="#8a8a8a" stroke-width="1"/>
<line x1="312.50" y1="730.50" x2="314.50" y2="730.50" stroke="#8a8a8a" stroke-width="1"/>
<text x="306.70" y="734.70" font-size="11.9" text-anchor="end" fill="#111">0</text>
<line x1="312.50" y1="694.50" x2="314.50" y2="694.50" stroke="#8a8a8a" stroke-width="1"/>
<text x="306.70" y="698.80" font-size="11.9" text-anchor="end" fill="#111">20</text>
<line x1="312.50" y1="658.50" x2="314.50" y2="658.50" stroke="#8a8a8a" stroke-width="1"/>
<text x="306.70" y="662.90" font-size="11.9" text-anchor="end" fill="#111">40</text>
<line x1="312.50" y1="622.50" x2="314.50" y2="622.50" stroke="#8a8a8a" stroke-width="1"/>
<text x="306.70" y="627.00" font-size="11.9" text-anchor="end" fill="#111">60</text>
<line x1="312.50" y1="586.50" x2="314.50" y2="586.50" stroke="#8a8a8a" stroke-width="1"/>
<text x="306.70" y="591.10" font-size="11.9" text-anchor="end" fill="#111">80</text>
<line x1="314.50" y1="730.50" x2="314.50" y2="732.50" stroke="#8a8a8a" stroke-width="1"/>
<text x="314.40" y="748.70" font-size="11.9" text-anchor="middle" fill="#111">0</text>
<line x1="364.50" y1="730.50" x2="364.50" y2="732.50" stroke="#8a8a8a" stroke-width="1"/>
<text x="364.00" y="748.70" font-size="11.9" text-anchor="middle" fill="#111">10</text>
<line x1="413.50" y1="730.50" x2="413.50" y2="732.50" stroke="#8a8a8a" stroke-width="1"/>
<text x="413.60" y="748.70" font-size="11.9" text-anchor="middle" fill="#111">20</text>
<line x1="463.50" y1="730.50" x2="463.50" y2="732.50" stroke="#8a8a8a" stroke-width="1"/>
<text x="463.20" y="748.70" font-size="11.9" text-anchor="middle" fill="#111">30</text>
<line x1="512.50" y1="730.50" x2="512.50" y2="732.50" stroke="#8a8a8a" stroke-width="1"/>
<text x="512.80" y="748.70" font-size="11.9" text-anchor="middle" fill="#111">40</text>
<text x="280.40" y="658.30" font-size="11.6" text-anchor="middle" transform="rotate(-90 280.40 658.30)" textLength="94" lengthAdjust="spacingAndGlyphs" fill="#111">% of specific lysis</text>
<text x="414.80" y="766.50" font-size="12" text-anchor="middle" fill="#111">E:T ratio</text>
<text x="390.70" y="579.90" font-size="14.2" text-anchor="middle" font-weight="bold" fill="#111">MM (n = 4)</text>
<line x1="333.00" y1="595.00" x2="398.80" y2="595.00" stroke="#000" stroke-width="1.7"/>
<circle cx="365.80" cy="595.00" r="2.20" fill="#000"/>
<text x="414.90" y="599.30" font-size="11.8" text-anchor="start" fill="#111">Control</text>
<line x1="333.00" y1="610.40" x2="392.70" y2="610.40" stroke="#000" stroke-width="1.7" stroke-dasharray="16,6"/>
<path d="M363.96 609.12L367.64 609.12L365.80 612.16Z" fill="#fff" stroke="#000" stroke-width="1"/>
<text x="414.90" y="614.70" font-size="11.8" text-anchor="start" fill="#111">IFN-<tspan font-family="Liberation Serif">γ</tspan></text>
<line x1="333.00" y1="626.10" x2="395.00" y2="626.10" stroke="#000" stroke-width="1.7" stroke-dasharray="12,4.6"/>
<rect x="363.60" y="623.90" width="4.40" height="4.40" fill="#000"/>
<text x="418.60" y="630.40" font-size="11.8" text-anchor="start" fill="#111">LPS</text>
<line x1="333.00" y1="641.20" x2="398.80" y2="641.20" stroke="#000" stroke-width="1.7" stroke-dasharray="7.4,4.2"/>
<circle cx="365.80" cy="641.20" r="2.20" fill="#fff" stroke="#000" stroke-width="1"/>
<text x="418.60" y="645.50" font-size="11.8" text-anchor="start" fill="#111">K562</text>
<line x1="364.00" y1="692.27" x2="364.00" y2="708.42" stroke="#999" stroke-width="1.0"/>
<line x1="362.00" y1="692.27" x2="366.00" y2="692.27" stroke="#999" stroke-width="1.0"/>
<line x1="362.00" y1="708.42" x2="366.00" y2="708.42" stroke="#999" stroke-width="1.0"/>
<line x1="413.60" y1="665.88" x2="413.60" y2="683.83" stroke="#999" stroke-width="1.0"/>
<line x1="411.60" y1="665.88" x2="415.60" y2="665.88" stroke="#999" stroke-width="1.0"/>
<line x1="411.60" y1="683.83" x2="415.60" y2="683.83" stroke="#999" stroke-width="1.0"/>
<line x1="512.80" y1="597.67" x2="512.80" y2="626.39" stroke="#999" stroke-width="1.0"/>
<line x1="510.80" y1="597.67" x2="514.80" y2="597.67" stroke="#999" stroke-width="1.0"/>
<line x1="510.80" y1="626.39" x2="514.80" y2="626.39" stroke="#999" stroke-width="1.0"/>
<polyline points="339.20,705.91 364.00,700.34 413.60,674.86 512.80,612.03" fill="none" stroke="#000" stroke-width="1.5" stroke-linejoin="round"/>
<circle cx="339.20" cy="705.91" r="2.60" fill="#000"/>
<circle cx="364.00" cy="700.34" r="2.60" fill="#000"/>
<circle cx="413.60" cy="674.86" r="2.60" fill="#000"/>
<circle cx="512.80" cy="612.03" r="2.60" fill="#000"/>
<line x1="512.80" y1="653.32" x2="512.80" y2="667.67" stroke="#999" stroke-width="1.0"/>
<line x1="510.80" y1="653.32" x2="514.80" y2="653.32" stroke="#999" stroke-width="1.0"/>
<line x1="510.80" y1="667.67" x2="514.80" y2="667.67" stroke="#999" stroke-width="1.0"/>
<polyline points="339.20,709.50 364.00,709.50 413.60,704.11 512.80,660.50" fill="none" stroke="#000" stroke-width="1.8" stroke-linejoin="round" stroke-dasharray="12,4.6"/>
<rect x="336.60" y="706.90" width="5.20" height="5.20" fill="#000"/>
<rect x="361.40" y="706.90" width="5.20" height="5.20" fill="#000"/>
<rect x="411.00" y="701.51" width="5.20" height="5.20" fill="#000"/>
<rect x="510.20" y="657.89" width="5.20" height="5.20" fill="#000"/>
<line x1="339.20" y1="718.83" x2="339.20" y2="724.22" stroke="#999" stroke-width="1.0"/>
<line x1="337.20" y1="718.83" x2="341.20" y2="718.83" stroke="#999" stroke-width="1.0"/>
<line x1="337.20" y1="724.22" x2="341.20" y2="724.22" stroke="#999" stroke-width="1.0"/>
<line x1="364.00" y1="709.50" x2="364.00" y2="716.68" stroke="#999" stroke-width="1.0"/>
<line x1="362.00" y1="709.50" x2="366.00" y2="709.50" stroke="#999" stroke-width="1.0"/>
<line x1="362.00" y1="716.68" x2="366.00" y2="716.68" stroke="#999" stroke-width="1.0"/>
<line x1="413.60" y1="693.88" x2="413.60" y2="711.83" stroke="#999" stroke-width="1.0"/>
<line x1="411.60" y1="693.88" x2="415.60" y2="693.88" stroke="#999" stroke-width="1.0"/>
<line x1="411.60" y1="711.83" x2="415.60" y2="711.83" stroke="#999" stroke-width="1.0"/>
<line x1="512.80" y1="659.60" x2="512.80" y2="675.75" stroke="#999" stroke-width="1.0"/>
<line x1="510.80" y1="659.60" x2="514.80" y2="659.60" stroke="#999" stroke-width="1.0"/>
<line x1="510.80" y1="675.75" x2="514.80" y2="675.75" stroke="#999" stroke-width="1.0"/>
<polyline points="339.20,721.52 364.00,713.09 413.60,702.86 512.80,667.67" fill="none" stroke="#000" stroke-width="1.8" stroke-linejoin="round" stroke-dasharray="16,6"/>
<path d="M336.67 719.76L341.73 719.76L339.20 723.94Z" fill="#fff" stroke="#000" stroke-width="1"/>
<path d="M361.47 711.33L366.53 711.33L364.00 715.51Z" fill="#fff" stroke="#000" stroke-width="1"/>
<path d="M411.07 701.10L416.13 701.10L413.60 705.28Z" fill="#fff" stroke="#000" stroke-width="1"/>
<path d="M510.27 665.91L515.33 665.91L512.80 670.09Z" fill="#fff" stroke="#000" stroke-width="1"/>
<line x1="339.20" y1="724.22" x2="339.20" y2="727.81" stroke="#999" stroke-width="1.0"/>
<line x1="337.20" y1="724.22" x2="341.20" y2="724.22" stroke="#999" stroke-width="1.0"/>
<line x1="337.20" y1="727.81" x2="341.20" y2="727.81" stroke="#999" stroke-width="1.0"/>
<line x1="364.00" y1="715.06" x2="364.00" y2="725.83" stroke="#999" stroke-width="1.0"/>
<line x1="362.00" y1="715.06" x2="366.00" y2="715.06" stroke="#999" stroke-width="1.0"/>
<line x1="362.00" y1="725.83" x2="366.00" y2="725.83" stroke="#999" stroke-width="1.0"/>
<line x1="413.60" y1="722.24" x2="413.60" y2="731.22" stroke="#999" stroke-width="1.0"/>
<line x1="411.60" y1="722.24" x2="415.60" y2="722.24" stroke="#999" stroke-width="1.0"/>
<line x1="411.60" y1="731.22" x2="415.60" y2="731.22" stroke="#999" stroke-width="1.0"/>
<line x1="512.80" y1="710.75" x2="512.80" y2="717.93" stroke="#999" stroke-width="1.0"/>
<line x1="510.80" y1="710.75" x2="514.80" y2="710.75" stroke="#999" stroke-width="1.0"/>
<line x1="510.80" y1="717.93" x2="514.80" y2="717.93" stroke="#999" stroke-width="1.0"/>
<polyline points="339.20,726.01 364.00,720.45 413.60,726.73 512.80,714.35" fill="none" stroke="#000" stroke-width="1.8" stroke-linejoin="round" stroke-dasharray="7.4,4.2"/>
<circle cx="339.20" cy="726.01" r="2.60" fill="#fff" stroke="#000" stroke-width="1"/>
<circle cx="364.00" cy="720.45" r="2.60" fill="#fff" stroke="#000" stroke-width="1"/>
<circle cx="413.60" cy="726.73" r="2.60" fill="#fff" stroke="#000" stroke-width="1"/>
<circle cx="512.80" cy="714.35" r="2.60" fill="#fff" stroke="#000" stroke-width="1"/>
<text x="128.80" y="814.30" font-size="25" text-anchor="start" font-weight="bold" fill="#111">G</text>
<line x1="174.50" y1="870.50" x2="174.50" y2="999.50" stroke="#8a8a8a" stroke-width="1"/>
<line x1="174.50" y1="999.50" x2="354.60" y2="999.50" stroke="#8a8a8a" stroke-width="1"/>
<line x1="172.50" y1="999.50" x2="174.50" y2="999.50" stroke="#8a8a8a" stroke-width="1"/>
<text x="168.20" y="1002.40" font-size="8.8" text-anchor="end" fill="#111">0</text>
<line x1="172.50" y1="975.50" x2="174.50" y2="975.50" stroke="#8a8a8a" stroke-width="1"/>
<text x="168.20" y="977.75" font-size="8.8" text-anchor="end" fill="#111">20</text>
<line x1="172.50" y1="950.50" x2="174.50" y2="950.50" stroke="#8a8a8a" stroke-width="1"/>
<text x="168.20" y="953.10" font-size="8.8" text-anchor="end" fill="#111">40</text>
<line x1="172.50" y1="925.50" x2="174.50" y2="925.50" stroke="#8a8a8a" stroke-width="1"/>
<text x="168.20" y="928.45" font-size="8.8" text-anchor="end" fill="#111">60</text>
<line x1="172.50" y1="901.50" x2="174.50" y2="901.50" stroke="#8a8a8a" stroke-width="1"/>
<text x="168.20" y="903.80" font-size="8.8" text-anchor="end" fill="#111">80</text>
<line x1="172.50" y1="876.50" x2="174.50" y2="876.50" stroke="#8a8a8a" stroke-width="1"/>
<text x="168.20" y="879.15" font-size="8.8" text-anchor="end" fill="#111">100</text>
<line x1="174.50" y1="999.50" x2="174.50" y2="1001.50" stroke="#8a8a8a" stroke-width="1"/>
<text x="174.80" y="1014.70" font-size="8.8" text-anchor="middle" fill="#111">0</text>
<line x1="219.50" y1="999.50" x2="219.50" y2="1001.50" stroke="#8a8a8a" stroke-width="1"/>
<text x="219.60" y="1014.70" font-size="8.8" text-anchor="middle" fill="#111">10</text>
<line x1="264.50" y1="999.50" x2="264.50" y2="1001.50" stroke="#8a8a8a" stroke-width="1"/>
<text x="264.40" y="1014.70" font-size="8.8" text-anchor="middle" fill="#111">20</text>
<line x1="309.50" y1="999.50" x2="309.50" y2="1001.50" stroke="#8a8a8a" stroke-width="1"/>
<text x="309.20" y="1014.70" font-size="8.8" text-anchor="middle" fill="#111">30</text>
<line x1="354.50" y1="999.50" x2="354.50" y2="1001.50" stroke="#8a8a8a" stroke-width="1"/>
<text x="354.00" y="1014.70" font-size="8.8" text-anchor="middle" fill="#111">40</text>
<text x="144.70" y="934.40" font-size="11.8" text-anchor="middle" transform="rotate(-90 144.70 934.40)" fill="#111">% specific lysis</text>
<text x="265.00" y="1031.50" font-size="12" text-anchor="middle" fill="#111">E:T ratio</text>
<line x1="188.40" y1="826.60" x2="238.40" y2="826.60" stroke="#000" stroke-width="1.8"/>
<circle cx="213.40" cy="826.60" r="2.60" fill="#000"/>
<text x="250.90" y="830.90" font-size="12" text-anchor="start" fill="#111">Control</text>
<line x1="188.40" y1="842.20" x2="238.40" y2="842.20" stroke="#000" stroke-width="1.8"/>
<path d="M210.41 844.28L216.39 844.28L213.40 839.34Z" fill="#000"/>
<text x="250.90" y="846.50" font-size="12" text-anchor="start" fill="#111">IFN-<tspan font-family="Liberation Serif">γ</tspan></text>
<line x1="188.40" y1="857.50" x2="233.10" y2="857.50" stroke="#000" stroke-width="1.8" stroke-dasharray="11.3,5.3"/>
<rect x="210.80" y="854.90" width="5.20" height="5.20" fill="#000"/>
<text x="250.90" y="861.80" font-size="12" text-anchor="start" fill="#111">LPS</text>
<line x1="188.40" y1="872.80" x2="238.40" y2="872.80" stroke="#000" stroke-width="1.8"/>
<path d="M213.40 869.55L216.65 872.80L213.40 876.05L210.15 872.80Z" fill="#000"/>
<text x="250.90" y="877.10" font-size="12" text-anchor="start" fill="#111">PGN</text>
<line x1="188.40" y1="887.80" x2="238.40" y2="887.80" stroke="#000" stroke-width="1.8" stroke-dasharray="7.7,3.6"/>
<path d="M210.41 885.72L216.39 885.72L213.40 890.66Z" fill="#000"/>
<text x="250.90" y="892.10" font-size="12" text-anchor="start" fill="#111">ODN</text>
<line x1="197.20" y1="973.52" x2="197.20" y2="980.92" stroke="#999" stroke-width="1.0"/>
<line x1="195.20" y1="973.52" x2="199.20" y2="973.52" stroke="#999" stroke-width="1.0"/>
<line x1="195.20" y1="980.92" x2="199.20" y2="980.92" stroke="#999" stroke-width="1.0"/>
<line x1="219.60" y1="955.16" x2="219.60" y2="962.56" stroke="#999" stroke-width="1.0"/>
<line x1="217.60" y1="955.16" x2="221.60" y2="955.16" stroke="#999" stroke-width="1.0"/>
<line x1="217.60" y1="962.56" x2="221.60" y2="962.56" stroke="#999" stroke-width="1.0"/>
<line x1="354.00" y1="891.44" x2="354.00" y2="898.84" stroke="#999" stroke-width="1.0"/>
<line x1="352.00" y1="891.44" x2="356.00" y2="891.44" stroke="#999" stroke-width="1.0"/>
<line x1="352.00" y1="898.84" x2="356.00" y2="898.84" stroke="#999" stroke-width="1.0"/>
<polyline points="197.20,977.22 219.60,958.86 264.40,916.71 354.00,895.14" fill="none" stroke="#000" stroke-width="1.7" stroke-linejoin="round"/>
<circle cx="197.20" cy="977.22" r="3.20" fill="#000"/>
<circle cx="219.60" cy="958.86" r="3.20" fill="#000"/>
<circle cx="264.40" cy="916.71" r="3.20" fill="#000"/>
<circle cx="354.00" cy="895.14" r="3.20" fill="#000"/>
<polyline points="197.20,974.02 219.60,944.44 264.40,909.93 354.00,886.51" fill="none" stroke="#000" stroke-width="1.7" stroke-linejoin="round"/>
<path d="M193.75 976.42L200.65 976.42L197.20 970.72Z" fill="#000"/>
<path d="M216.15 946.84L223.05 946.84L219.60 941.14Z" fill="#000"/>
<path d="M260.95 912.33L267.85 912.33L264.40 906.63Z" fill="#000"/>
<path d="M350.55 888.91L357.45 888.91L354.00 883.21Z" fill="#000"/>
<polyline points="197.20,970.32 219.60,939.51 264.40,907.46 354.00,891.44" fill="none" stroke="#000" stroke-width="1.7" stroke-linejoin="round" stroke-dasharray="11.3,5.3"/>
<rect x="194.20" y="967.32" width="6.00" height="6.00" fill="#000"/>
<rect x="216.60" y="936.51" width="6.00" height="6.00" fill="#000"/>
<rect x="261.40" y="904.46" width="6.00" height="6.00" fill="#000"/>
<rect x="351.00" y="888.44" width="6.00" height="6.00" fill="#000"/>
<line x1="197.20" y1="958.98" x2="197.20" y2="966.38" stroke="#999" stroke-width="1.0"/>
<line x1="195.20" y1="958.98" x2="199.20" y2="958.98" stroke="#999" stroke-width="1.0"/>
<line x1="195.20" y1="966.38" x2="199.20" y2="966.38" stroke="#999" stroke-width="1.0"/>
<polyline points="197.20,962.68 219.60,947.03 264.40,905.61 354.00,889.34" fill="none" stroke="#000" stroke-width="1.7" stroke-linejoin="round"/>
<path d="M197.20 958.68L201.20 962.68L197.20 966.68L193.20 962.68Z" fill="#000"/>
<path d="M219.60 943.03L223.60 947.03L219.60 951.03L215.60 947.03Z" fill="#000"/>
<path d="M264.40 901.61L268.40 905.61L264.40 909.61L260.40 905.61Z" fill="#000"/>
<path d="M354.00 885.34L358.00 889.34L354.00 893.34L350.00 889.34Z" fill="#000"/>
<line x1="219.60" y1="928.41" x2="219.60" y2="940.74" stroke="#999" stroke-width="1.0"/>
<line x1="217.60" y1="928.41" x2="221.60" y2="928.41" stroke="#999" stroke-width="1.0"/>
<line x1="217.60" y1="940.74" x2="221.60" y2="940.74" stroke="#999" stroke-width="1.0"/>
<line x1="264.40" y1="901.30" x2="264.40" y2="916.09" stroke="#999" stroke-width="1.0"/>
<line x1="262.40" y1="901.30" x2="266.40" y2="901.30" stroke="#999" stroke-width="1.0"/>
<line x1="262.40" y1="916.09" x2="266.40" y2="916.09" stroke="#999" stroke-width="1.0"/>
<line x1="354.00" y1="874.18" x2="354.00" y2="884.04" stroke="#999" stroke-width="1.0"/>
<line x1="352.00" y1="874.18" x2="356.00" y2="874.18" stroke="#999" stroke-width="1.0"/>
<line x1="352.00" y1="884.04" x2="356.00" y2="884.04" stroke="#999" stroke-width="1.0"/>
<polyline points="197.20,972.78 219.60,934.58 264.40,908.69 354.00,879.12" fill="none" stroke="#000" stroke-width="1.7" stroke-linejoin="round" stroke-dasharray="7.7,3.6"/>
<path d="M193.75 970.38L200.65 970.38L197.20 976.08Z" fill="#000"/>
<path d="M216.15 932.18L223.05 932.18L219.60 937.88Z" fill="#000"/>
<path d="M260.95 906.29L267.85 906.29L264.40 911.99Z" fill="#000"/>
<path d="M350.55 876.72L357.45 876.72L354.00 882.41Z" fill="#000"/>
</svg>
</body></html>
